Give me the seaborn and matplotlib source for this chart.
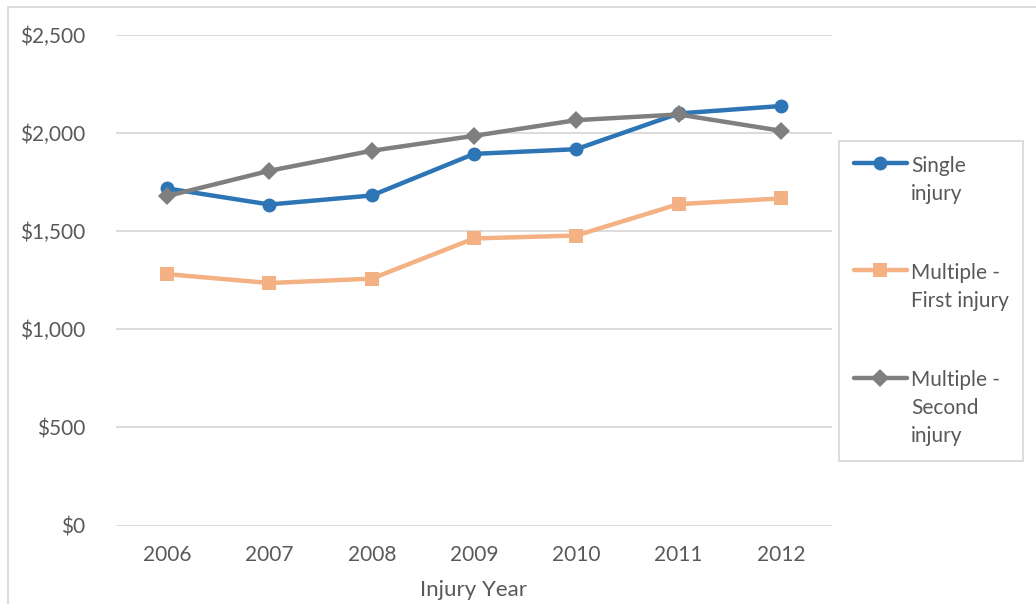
import matplotlib
matplotlib.use("Agg")
import matplotlib.pyplot as plt
import matplotlib.patches as mpatches
import seaborn as sns
import pandas as pd

# Average cost per injury, by injury year
years = ["2006", "2007", "2008", "2009", "2010", "2011", "2012"]
single_injury = [1718, 1636, 1682, 1894, 1918, 2100, 2138]
multiple_first = [1281, 1236, 1258, 1463, 1478, 1638, 1667]
multiple_second = [1679, 1808, 1910, 1986, 2066, 2095, 2012]

series_names = ["Single injury", "Multiple - First injury", "Multiple - Second injury"]
legend_labels = ["Single\ninjury", "Multiple -\nFirst injury", "Multiple -\nSecond\ninjury"]
colors = ["#2E75B6", "#F4B183", "#7F7F7F"]
markers = ["o", "s", "D"]

df = pd.concat([
    pd.DataFrame({"Injury Year": years, "Cost": vals, "Series": name})
    for name, vals in zip(series_names, [single_injury, multiple_first, multiple_second])
])

sns.set_theme(style="white")
plt.rcParams["font.family"] = ["Lato", "DejaVu Sans"]

fig = plt.figure(figsize=(10.36, 6.04), dpi=100)
ax = fig.add_axes([116 / 1036, 1 - 525.5 / 604, (832 - 116) / 1036, (525.5 - 35) / 604])

sns.lineplot(
    data=df, x="Injury Year", y="Cost", hue="Series", style="Series",
    palette=dict(zip(series_names, colors)),
    markers=dict(zip(series_names, markers)),
    dashes=False, linewidth=3.2, markersize=10, markeredgewidth=0,
    sort=False, ax=ax,
)
# diamond a touch smaller so it reads like the others
for line in ax.lines:
    if line.get_marker() == "D":
        line.set_markersize(9)

ax.set_ylim(0, 2500)
ax.set_xlim(-0.5, len(years) - 0.5)
ax.set_yticks([0, 500, 1000, 1500, 2000, 2500])
ax.set_yticklabels([f"${v:,}" for v in [0, 500, 1000, 1500, 2000, 2500]])
ax.grid(axis="y", color="#D9D9D9", linewidth=1.3)
ax.grid(axis="x", visible=False)
for s in ax.spines.values():
    s.set_visible(False)
ax.tick_params(axis="both", length=0, labelsize=15, labelcolor="#595959")
ax.tick_params(axis="y", pad=22)
ax.tick_params(axis="x", pad=14)
ax.set_ylabel("")
ax.set_xlabel("Injury Year", fontsize=16, color="#595959", labelpad=11)

handles, _ = ax.get_legend_handles_labels()
if ax.legend_:
    ax.legend_.remove()
leg = fig.legend(
    handles[-3:], legend_labels,
    loc="upper left", bbox_to_anchor=(839 / 1036, 1 - 141 / 604),
    frameon=True, fancybox=False, edgecolor="#D9D9D9", framealpha=1,
    fontsize=15, labelcolor="#595959", handlelength=2.55, handletextpad=0.2,
    labelspacing=2.85, borderpad=0.7, borderaxespad=0,
)
leg.get_frame().set_linewidth(1.3)
for t in leg.get_texts():
    t.set_linespacing(1.5)
for row in leg._legend_handle_box.get_children()[0].get_children():
    row.align = "top"

# outer chart border
fig.add_artist(mpatches.Rectangle(
    (8 / 1036, -0.05), 1.2, 1 - 7 / 604 + 0.05,
    transform=fig.transFigure, fill=False, edgecolor="#D9D9D9", linewidth=1.3,
))

fig.savefig("out.png", dpi=100)
